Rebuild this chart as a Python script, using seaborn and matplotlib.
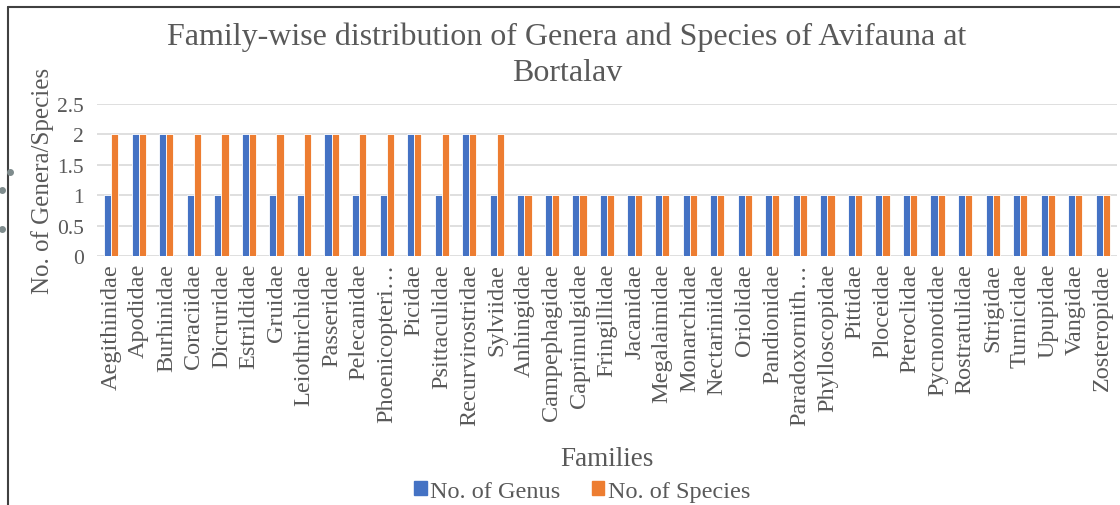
import matplotlib
matplotlib.use("Agg")
import matplotlib.pyplot as plt
from matplotlib.lines import Line2D
import pandas as pd
import seaborn as sns

families = [
    "Aegithinidae", "Apodidae", "Burhinidae", "Coraciidae", "Dicruridae",
    "Estrildidae", "Gruidae", "Leiothrichidae", "Passeridae", "Pelecanidae",
    "Phoenicopteri…", "Picidae", "Psittaculidae", "Recurvirostridae", "Sylviidae",
    "Anhingidae", "Campephagidae", "Caprimulgidae", "Fringillidae", "Jacanidae",
    "Megalaimidae", "Monarchidae", "Nectariniidae", "Oriolidae", "Pandionidae",
    "Paradoxornith…", "Phylloscopidae", "Pittidae", "Ploceidae", "Pteroclidae",
    "Pycnonotidae", "Rostratulidae", "Strigidae", "Turnicidae", "Upupidae",
    "Vangidae", "Zosteropidae",
]
genus = [1, 2, 2, 1, 1, 2, 1, 1, 2, 1, 1, 2, 1, 2, 1] + [1] * 22
species = [2] * 15 + [1] * 22
series_names = ["No. of Genus", "No. of Species"]
colors = ["#4472C4", "#ED7D31"]

df = pd.DataFrame({
    "Family": families * 2,
    "Count": genus + species,
    "Series": [series_names[0]] * len(families) + [series_names[1]] * len(families),
})

sns.set_style("white")
plt.rcParams["font.family"] = ["Liberation Serif", "DejaVu Serif"]
txt = "#595959"

fig = plt.figure(figsize=(11.2, 5.06), dpi=100)
ax = fig.add_axes([0.087, 0.492, 0.910, 0.3005])

sns.barplot(data=df, x="Family", y="Count", hue="Series", palette=colors,
            saturation=1, width=0.52, edgecolor="white", linewidth=0.6,
            ax=ax, legend=False)

ax.set_ylim(0, 2.5)
ax.set_xlim(-0.5, len(families) - 0.5)
ax.set_yticks([0, 0.5, 1, 1.5, 2, 2.5])
ax.set_yticklabels(["0", "0.5", "1", "1.5", "2", "2.5"])
ax.yaxis.grid(True, color="#D9D9D9", linewidth=1.2)
ax.set_axisbelow(True)
for s in ax.spines.values():
    s.set_visible(False)
ax.tick_params(axis="both", length=0, colors=txt)
ax.tick_params(axis="x", pad=5, labelsize=17.5)
ax.tick_params(axis="y", pad=10, labelsize=15.5)
plt.setp(ax.get_xticklabels(), rotation=90)

ax.set_xlabel("Families", fontsize=19.5, color=txt, labelpad=15)
ax.set_ylabel("No. of Genera/Species", fontsize=18, color=txt, labelpad=2)

fig.text(0.506, 0.926, "Family-wise distribution of Genera and Species of Avifauna at",
         ha="center", va="center", fontsize=23, color=txt)
fig.text(0.506, 0.855, "Bortalav", ha="center", va="center", fontsize=23, color=txt)

handles = [plt.Rectangle((0, 0), 1, 1, color=c) for c in colors]
fig.legend(handles, series_names, loc="center", bbox_to_anchor=(0.52, 0.027),
           ncol=2, frameon=False, fontsize=17.5, handlelength=0.5, handleheight=0.5,
           handletextpad=0.15, columnspacing=1.3, labelcolor=txt)

# frame edges of the cropped screenshot
fig.add_artist(Line2D([0.0075, 0.0075], [0.0, 0.984], color="#404040", lw=1.5))
fig.add_artist(Line2D([0.0075, 1.0], [0.984, 0.984], color="#404040", lw=1.5))
for xd, yd in [(0.009, 0.658), (0.002, 0.622), (0.002, 0.545)]:
    fig.add_artist(Line2D([xd], [yd], marker="o", ms=4, color="#7F8C8D", lw=0))

fig.savefig("out.png", dpi=100)
